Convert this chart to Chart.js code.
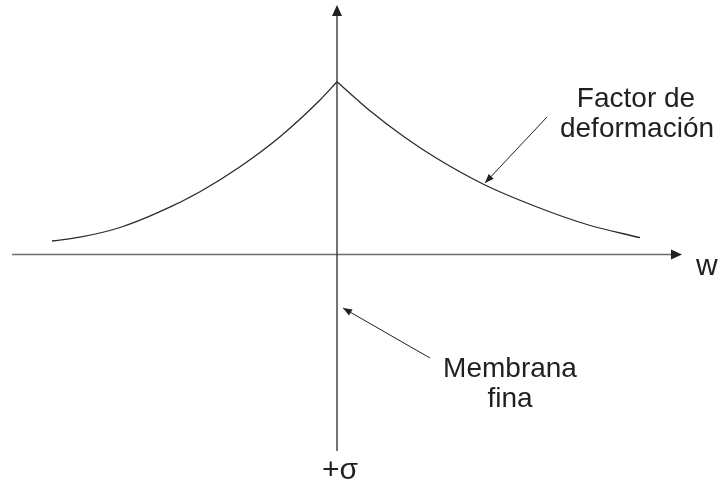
<!DOCTYPE html>
<html>
<head>
<meta charset="utf-8">
<script src="https://cdn.jsdelivr.net/npm/chart.js@4"></script>
<style>
  html, body { margin: 0; padding: 0; background: #fff; }
</style>
</head>
<body>
<canvas id="chart" width="720" height="489"></canvas>
<script>
// curve sampled on each side of the peak (w, factor)
const leftW = [-285, -257, -217, -177, -137, -97, -57, -17, 0];
const leftF = [13.5, 17.3, 27, 42.8, 62.8, 87.8, 117.8, 154.5, 172.8];
const rightW = [0, 32, 67, 100, 147, 200, 250, 303];
const rightF = [172.8, 144.5, 117.8, 96, 70, 47.5, 30, 16.8];

const xAxisLabel = "w";
const yAxisLabel = "+σ";
const curveNote = ["Factor de", "deformación"];
const axisNote = ["Membrana", "fina"];

const ink = "#231f20";
const font = "28px 'Liberation Sans', Arial, sans-serif";

function toPoints(ws, fs) {
  return ws.map((w, i) => ({ x: w, y: fs[i] }));
}

function arrowHead(ctx, x1, y1, x2, y2, len, half) {
  const a = Math.atan2(y2 - y1, x2 - x1);
  ctx.beginPath();
  ctx.moveTo(x2, y2);
  ctx.lineTo(x2 - len * Math.cos(a) + half * Math.sin(a), y2 - len * Math.sin(a) - half * Math.cos(a));
  ctx.lineTo(x2 - len * Math.cos(a) - half * Math.sin(a), y2 - len * Math.sin(a) + half * Math.cos(a));
  ctx.closePath();
  ctx.fill();
}

const sketch = {
  id: "sketch",
  beforeDatasetsDraw(chart) {
    const ctx = chart.ctx;
    const sx = chart.scales.x, sy = chart.scales.y;
    const px = (w) => sx.getPixelForValue(w);
    const py = (f) => sy.getPixelForValue(f);
    ctx.save();
    ctx.fillStyle = ink;

    // horizontal axis
    ctx.strokeStyle = "#6d6e70";
    ctx.lineWidth = 1.6;
    ctx.beginPath();
    ctx.moveTo(px(-325), py(0));
    ctx.lineTo(px(336), py(0));
    ctx.stroke();
    arrowHead(ctx, px(0), py(0), px(345), py(0), 11, 5);

    // vertical axis
    ctx.strokeStyle = "#3a3a3a";
    ctx.lineWidth = 1.4;
    ctx.beginPath();
    ctx.moveTo(px(0), py(-196.5));
    ctx.lineTo(px(0), py(240));
    ctx.stroke();
    arrowHead(ctx, px(0), py(0), px(0), py(249.5), 11, 5);
    ctx.restore();
  },
  afterDatasetsDraw(chart) {
    const ctx = chart.ctx;
    const sx = chart.scales.x, sy = chart.scales.y;
    const px = (w) => sx.getPixelForValue(w);
    const py = (f) => sy.getPixelForValue(f);
    ctx.save();
    ctx.fillStyle = ink;
    ctx.strokeStyle = ink;
    ctx.lineWidth = 1;

    // callout arrows
    const callouts = [
      [210, 137.5, 148, 71.5],
      [93, -103.5, 6, -53.5]
    ];
    callouts.forEach(([w1, f1, w2, f2]) => {
      ctx.beginPath();
      ctx.moveTo(px(w1), py(f1));
      ctx.lineTo(px(w2), py(f2));
      ctx.stroke();
      arrowHead(ctx, px(w1), py(f1), px(w2), py(f2), 9, 3.5);
    });

    ctx.font = font;
    ctx.textAlign = "center";
    ctx.textBaseline = "alphabetic";
    ctx.fillText(curveNote[0], px(299), py(147.8));
    ctx.fillText(curveNote[1], px(300), py(117.8));
    ctx.fillText(axisNote[0], px(173), py(-122.2));
    ctx.fillText(axisNote[1], px(173), py(-152.2));

    ctx.font = "30px 'Liberation Sans', Arial, sans-serif";
    ctx.textAlign = "left";
    ctx.fillText(xAxisLabel, px(359), py(-20.5));
    ctx.textAlign = "center";
    ctx.fillText(yAxisLabel, px(3), py(-224.5));
    ctx.restore();
  }
};

const curveStyle = {
  borderColor: "#2b2b2b",
  borderWidth: 1.3,
  pointRadius: 0,
  fill: false,
  cubicInterpolationMode: "monotone"
};

new Chart(document.getElementById("chart"), {
  type: "line",
  data: {
    datasets: [
      Object.assign({ label: "izquierda", data: toPoints(leftW, leftF) }, curveStyle),
      Object.assign({ label: "derecha", data: toPoints(rightW, rightF) }, curveStyle)
    ]
  },
  options: {
    responsive: false,
    animation: false,
    devicePixelRatio: 1,
    layout: { padding: 0 },
    plugins: { legend: { display: false }, tooltip: { enabled: false } },
    scales: {
      x: { type: "linear", min: -337, max: 383, display: false },
      y: { type: "linear", min: -234.5, max: 254.5, display: false }
    }
  },
  plugins: [sketch]
});
</script>
</body>
</html>
